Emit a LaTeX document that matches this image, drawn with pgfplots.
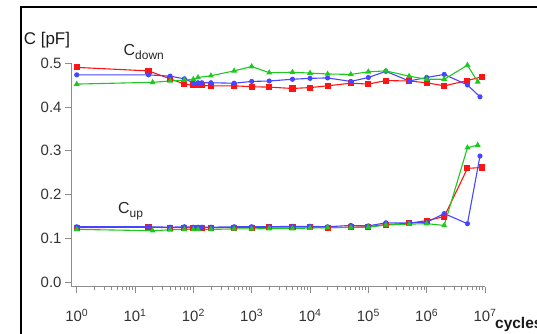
\documentclass[border=0pt]{standalone}
\usepackage{pgfplots}
\pgfplotsset{compat=1.18}
\usepackage{fontspec}
\setmainfont{Liberation Sans}
\definecolor{cred}{RGB}{255,20,20}
\definecolor{cblue}{RGB}{70,70,255}
\definecolor{cgreen}{RGB}{30,200,30}
\begin{document}
\begin{tikzpicture}
\useasboundingbox (0,0) rectangle (537bp,-334bp);
\draw[line width=2bp] (20.5bp,-345bp) -- (20.5bp,-7bp) -- (550bp,-7bp);
\begin{axis}[
  at={(71bp,-286.5bp)}, anchor=south west, scale only axis,
  width=414bp, height=223.5bp,
  xmode=log, log basis x=10,
  xmin=0.798, xmax=1e7, ymin=-0.0091, ymax=0.5,
  axis x line*=bottom, axis y line*=left,
  axis line style={draw=black!45, line width=0.8bp, -},
  xtick={1,10,100,1000,10000,100000,1000000,10000000},
  xticklabels={10\textsuperscript{0},10\textsuperscript{1},10\textsuperscript{2},10\textsuperscript{3},10\textsuperscript{4},10\textsuperscript{5},10\textsuperscript{6},10\textsuperscript{7}},
  minor xtick={2,3,4,5,6,7,8,9,20,30,40,50,60,70,80,90,200,300,400,500,600,700,800,900,2000,3000,4000,5000,6000,7000,8000,9000,20000,30000,40000,50000,60000,70000,80000,90000,200000,300000,400000,500000,600000,700000,800000,900000,2000000,3000000,4000000,5000000,6000000,7000000,8000000,9000000},
  ytick={0,0.1,0.2,0.3,0.4,0.5},
  yticklabels={0.0,0.1,0.2,0.3,0.4,0.5},
  tick align=outside, major tick length=6bp, minor tick length=3.5bp,
  tick style={draw=black!45, line width=0.8bp},
  ticklabel style={font=\fontsize{15}{18}\selectfont, text=black!80},
  xticklabel style={yshift=-13bp},
  clip=false,
]
% C_down
\addplot[cred, line width=1.1bp, mark=square*, mark size=2.5bp, mark options={solid, fill=cred}] coordinates {
(1,0.490) (17,0.482) (40,0.464) (70,0.452) (100,0.449) (120,0.449) (140,0.449) (200,0.448) (500,0.448) (1000,0.446) (2000,0.445) (5000,0.442) (10000,0.444) (20000,0.448) (50000,0.454) (100000,0.452) (200000,0.460) (500000,0.459) (1000000,0.455) (2000000,0.448) (5000000,0.460) (9000000,0.469)};
\addplot[cblue, line width=1.1bp, mark=*, mark size=2bp, mark options={solid, fill=cblue}] coordinates {
(1,0.473) (17,0.473) (40,0.470) (70,0.464) (100,0.455) (120,0.455) (140,0.455) (200,0.455) (500,0.454) (1000,0.458) (2000,0.459) (5000,0.463) (10000,0.465) (20000,0.466) (50000,0.458) (100000,0.467) (200000,0.481) (500000,0.459) (1000000,0.467) (2000000,0.474) (5000000,0.450) (8200000,0.423)};
\addplot[cgreen, line width=1.1bp, mark=triangle*, mark size=2.4bp, mark options={solid, fill=cgreen}] coordinates {
(1,0.452) (20,0.456) (40,0.459) (70,0.461) (100,0.463) (120,0.467) (200,0.471) (500,0.482) (1000,0.492) (2000,0.478) (5000,0.479) (10000,0.477) (20000,0.475) (50000,0.474) (100000,0.480) (200000,0.482) (500000,0.470) (1000000,0.463) (2000000,0.463) (5000000,0.495) (7500000,0.457)};
% C_up
\addplot[cred, line width=1.1bp, mark=square*, mark size=2.5bp, mark options={solid, fill=cred}] coordinates {
(1,0.125) (17,0.126) (40,0.125) (70,0.125) (100,0.124) (120,0.124) (140,0.125) (200,0.125) (500,0.125) (1000,0.125) (2000,0.126) (5000,0.126) (10000,0.126) (20000,0.125) (50000,0.126) (100000,0.127) (200000,0.132) (500000,0.135) (1000000,0.141) (2000000,0.150) (5000000,0.260) (9000000,0.262)};
\addplot[cblue, line width=1.1bp, mark=*, mark size=2bp, mark options={solid, fill=cblue}] coordinates {
(1,0.127) (17,0.127) (40,0.126) (70,0.127) (100,0.126) (120,0.126) (140,0.126) (200,0.126) (500,0.127) (1000,0.127) (2000,0.127) (5000,0.128) (10000,0.128) (20000,0.127) (50000,0.130) (100000,0.129) (200000,0.136) (500000,0.136) (1000000,0.137) (2000000,0.157) (5000000,0.134) (8200000,0.288)};
\addplot[cgreen, line width=1.1bp, mark=triangle*, mark size=2.4bp, mark options={solid, fill=cgreen}] coordinates {
(1,0.121) (20,0.118) (40,0.120) (70,0.121) (100,0.121) (120,0.121) (200,0.121) (500,0.122) (1000,0.122) (2000,0.123) (5000,0.123) (10000,0.124) (20000,0.125) (50000,0.125) (100000,0.126) (200000,0.131) (500000,0.133) (1000000,0.134) (2000000,0.130) (5000000,0.307) (7500000,0.313)};
\end{axis}
\node[anchor=center, font=\fontsize{17}{20}\selectfont, text=black!90] at (47bp,-40bp) {C [pF]};
\node[anchor=base west, inner sep=0pt, font=\fontsize{16}{19}\selectfont, text=black!85] at (123.5bp,-55bp) {C\raisebox{-4bp}{\fontsize{12}{14}\selectfont down}};
\node[anchor=base west, inner sep=0pt, font=\fontsize{16}{19}\selectfont, text=black!85] at (118bp,-213.3bp) {C\raisebox{-4bp}{\fontsize{12}{14}\selectfont up}};
\node[anchor=base west, inner sep=0pt, font=\fontsize{15.5}{18}\selectfont\bfseries, text=black!90] at (495bp,-328bp) {cycles};
\end{tikzpicture}
\end{document}
